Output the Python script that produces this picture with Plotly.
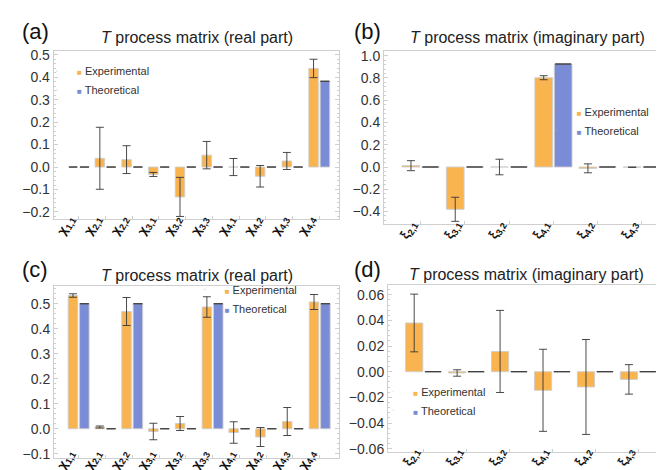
import plotly.graph_objects as go

W, H = 664, 470

# ---------------- data ----------------
chi_labels = ["χ<sub>1,1</sub>", "χ<sub>2,1</sub>", "χ<sub>2,2</sub>", "χ<sub>3,1</sub>", "χ<sub>3,2</sub>",
              "χ<sub>3,3</sub>", "χ<sub>4,1</sub>", "χ<sub>4,2</sub>", "χ<sub>4,3</sub>", "χ<sub>4,4</sub>"]
xi_labels = ["ξ<sub>2,1</sub>", "ξ<sub>3,1</sub>", "ξ<sub>3,2</sub>", "ξ<sub>4,1</sub>", "ξ<sub>4,2</sub>", "ξ<sub>4,3</sub>"]

a_exp = [0.0, 0.039, 0.033, -0.033, -0.133, 0.053, 0.0, -0.041, 0.027, 0.439]
a_exp_err = [0.0, 0.138, 0.062, 0.009, 0.087, 0.061, 0.038, 0.048, 0.038, 0.041]
a_theo = [0.0, 0.0, 0.0, 0.0, 0.0, 0.0, 0.0, 0.0, 0.0, 0.382]

b_exp = [0.012, -0.38, 0.0, 0.802, -0.012, -0.002]
b_exp_err = [0.045, 0.108, 0.07, 0.018, 0.04, 0.001]
b_theo = [0.0, 0.0, 0.0, 0.925, 0.0, 0.0]

c_exp = [0.533, 0.007, 0.469, -0.011, 0.021, 0.487, -0.015, -0.033, 0.029, 0.507]
c_exp_err = [0.007, 0.004, 0.056, 0.033, 0.028, 0.041, 0.043, 0.038, 0.056, 0.030]
c_theo = [0.5, 0.0, 0.5, 0.0, 0.0, 0.5, 0.0, 0.0, 0.0, 0.5]

d_exp = [0.038, -0.001, 0.0158, -0.0145, -0.0119, -0.006]
d_exp_err = [0.0225, 0.0025, 0.032, 0.032, 0.037, 0.0115]
d_theo = [0.0, 0.0, 0.0, 0.0, 0.0, 0.0]

title_real = "<i>T</i> process matrix (real part)"
title_imag = "<i>T</i> process matrix (imaginary part)"

# ---------------- style ----------------
ORANGE = "#F9B44F"
BLUE = "#7B8CD6"
EDGE = "rgba(205,205,205,0.9)"
ERR = "rgba(55,55,55,0.9)"
FRAME = "#cfcfcf"
FONT = "Liberation Sans, Arial, sans-serif"
LABEL_SHIFT_PX = 10   # rotated labels are centred on their group, not end-anchored

def px_x(x):
    return x / W

def px_y(y):
    return 1 - y / H

panels = [
    dict(key="a", labels=chi_labels, exp=a_exp, err=a_exp_err, theo=a_theo, title=title_real,
         box=(45.7, 331, 42.7, 210.7), yr=[-0.230, 0.518], xr=[-0.94, 9.74], dtick=0.1, fmt=".1f",
         bw=0.355, gap=0.07, capw=4, capt=4.5, letter="(a)", letpos=(27.5, 24), tpos=(188.7, 29),
         leg=(79, 81), raise_px=11),
    dict(key="b", labels=xi_labels, exp=b_exp, err=b_exp_err, theo=b_theo, title=title_imag,
         box=(376, 660, 43, 216), yr=[-0.512, 1.042], xr=[-0.83, 5.59], dtick=0.2, fmt=".1f",
         bw=0.40, gap=0.04, capw=4, capt=8, letter="(b)", letpos=(359.5, 23), tpos=(519, 29),
         leg=(578.7, 121.3), raise_px=11),
    dict(key="c", labels=chi_labels, exp=c_exp, err=c_exp_err, theo=c_theo, title=title_real,
         box=(46, 331, 278, 450), yr=[-0.117, 0.571], xr=[-0.92, 9.72], dtick=0.1, fmt=".1f",
         bw=0.355, gap=0.07, capw=4, capt=4.5, letter="(c)", letpos=(27, 261), tpos=(188.7, 267),
         leg=(226.7, 299.5), raise_px=16),
    dict(key="d", labels=xi_labels, exp=d_exp, err=d_exp_err, theo=d_theo, title=title_imag,
         box=(380, 657, 277, 444), yr=[-0.0626, 0.0676], xr=[-0.83, 5.62], dtick=0.02, fmt=".2f",
         bw=0.40, gap=0.04, capw=4, capt=8, letter="(d)", letpos=(359.5, 261), tpos=(518.5, 266),
         leg=(415.3, 401.3), raise_px=12),
]

fig = go.Figure()
annotations = []
layout_axes = {}

for i, p in enumerate(panels, start=1):
    sfx = "" if i == 1 else str(i)
    xa, ya = "x" + sfx, "y" + sfx
    xl = "x" + str(i + 4)
    legname = "legend" + sfx
    n = len(p["labels"])
    xs = list(range(n))
    bw, gap = p["bw"], p["gap"]

    fig.add_trace(go.Bar(
        x=xs, y=p["exp"], xaxis=xa, yaxis=ya, width=bw, offset=-(bw + gap / 2),
        marker=dict(color=ORANGE, line=dict(color=EDGE, width=1)),
        error_y=dict(type="data", array=p["err"], visible=True, color=ERR, thickness=1, width=p["capw"]),
        showlegend=False, name="Experimental"))
    fig.add_trace(go.Bar(
        x=xs, y=p["theo"], xaxis=xa, yaxis=ya, width=bw, offset=gap / 2,
        marker=dict(color=BLUE, line=dict(color=EDGE, width=1)),
        error_y=dict(type="data", array=[0] * n, visible=True, color=ERR, thickness=1, width=p["capt"]),
        showlegend=False, name="Theoretical"))

    # legend entries (invisible markers; they also host the label axis)
    for col, nm in ((ORANGE, "Experimental"), (BLUE, "Theoretical")):
        fig.add_trace(go.Scatter(
            x=[None], y=[None], xaxis=xl, yaxis=ya, mode="markers",
            marker=dict(opacity=0, size=1),
            name=f"<span style='color:{col};font-size:8px'>■</span> {nm}",
            legend=legname, showlegend=True, hoverinfo="skip"))

    x0, x1, y0, y1 = p["box"]
    units_per_px = (p["xr"][1] - p["xr"][0]) / (x1 - x0)
    layout_axes["xaxis" + sfx] = dict(
        domain=[px_x(x0), px_x(x1)], anchor=ya, range=p["xr"],
        tickmode="array", tickvals=xs, showticklabels=False,
        showline=True, linecolor=FRAME, linewidth=1, mirror=True,
        ticks="inside", ticklen=3, tickcolor=FRAME,
        showgrid=False, zeroline=False, automargin=False, fixedrange=True)
    # label-only axis (same scale) carrying the rotated category labels
    layout_axes["xaxis" + str(i + 4)] = dict(
        domain=[px_x(x0), px_x(x1)], overlaying=xa, anchor="free",
        position=px_y(y1 - p["raise_px"]), range=p["xr"],
        tickmode="array", tickvals=[x - LABEL_SHIFT_PX * units_per_px for x in xs],
        ticktext=p["labels"], tickangle=-60,
        tickfont=dict(family=FONT, size=13, color="#111", weight="bold"),
        showline=False, ticks="", showgrid=False, zeroline=False,
        automargin=False, fixedrange=True)
    layout_axes["yaxis" + sfx] = dict(
        domain=[px_y(y1), px_y(y0)], anchor=xa, range=p["yr"],
        dtick=p["dtick"], tick0=0, tickformat=p["fmt"],
        tickfont=dict(family=FONT, size=14, color="#333"),
        showline=True, linecolor=FRAME, linewidth=1, mirror="ticks",
        ticks="inside", ticklen=4, tickcolor=FRAME,
        minor=dict(dtick=p["dtick"] / 5, ticks="inside", ticklen=2, tickcolor=FRAME),
        showgrid=False, zeroline=False, automargin=False, fixedrange=True)

    lx, ly = p["leg"]
    layout_axes[legname] = dict(
        x=px_x(lx - 50), y=px_y(ly - 32.5), xanchor="left", yanchor="top",
        bgcolor="rgba(0,0,0,0)", borderwidth=0,
        font=dict(family=FONT, size=11, color="#333"), tracegroupgap=0)

    annotations.append(dict(text=p["letter"], x=px_x(p["letpos"][0]), y=px_y(p["letpos"][1]),
                            xref="paper", yref="paper", showarrow=False, xanchor="center", yanchor="middle",
                            font=dict(family=FONT, size=22, color="#111")))
    annotations.append(dict(text=p["title"], x=px_x(p["tpos"][0]), y=px_y(p["tpos"][1]),
                            xref="paper", yref="paper", showarrow=False, xanchor="center", yanchor="middle",
                            font=dict(family=FONT, size=16, color="#222")))

fig.update_layout(
    width=W, height=H, margin=dict(l=0, r=0, t=0, b=0),
    paper_bgcolor="white", plot_bgcolor="white",
    barmode="overlay", annotations=annotations,
    font=dict(family=FONT),
    **layout_axes)

fig.write_html("out.html")
